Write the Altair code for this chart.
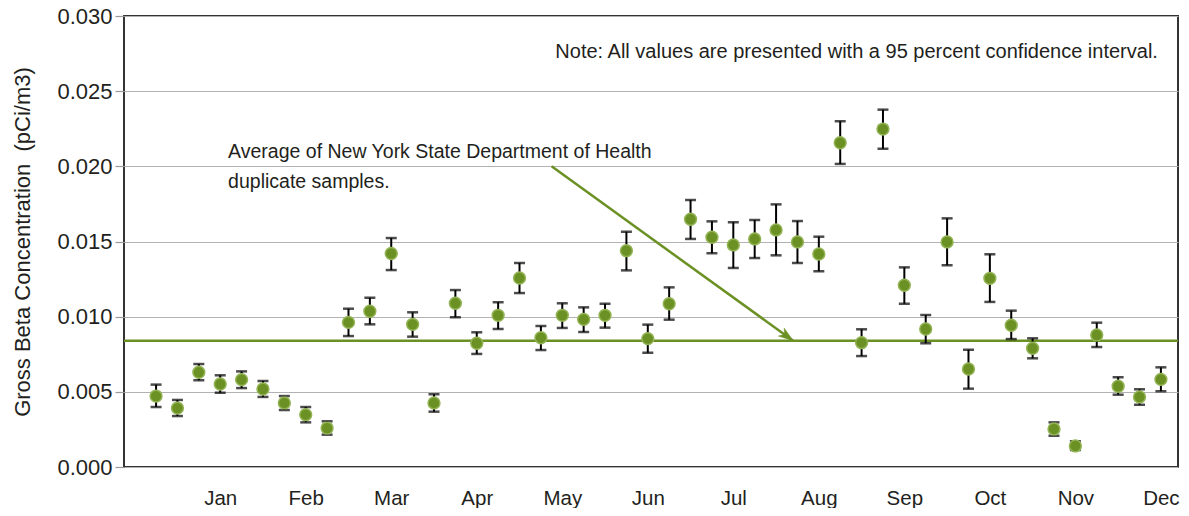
import altair as alt
import pandas as pd

# ---- data ----
sample_index = list(range(48))
values = [0.00472, 0.00392, 0.00630, 0.00552, 0.00581, 0.00519, 0.00426, 0.00348, 0.00259, 0.00962,
          0.01036, 0.01420, 0.00949, 0.00426, 0.01089, 0.00823, 0.01009, 0.01257, 0.00860, 0.01009,
          0.00982, 0.01009, 0.01439, 0.00854, 0.01086, 0.01648, 0.01528, 0.01477, 0.01517, 0.01577,
          0.01497, 0.01417, 0.02157, 0.00827, 0.02248, 0.01209, 0.00918, 0.01497, 0.00652, 0.01255,
          0.00943, 0.00790, 0.00253, 0.00140, 0.00878, 0.00537, 0.00466, 0.00583]
upper = [0.00548, 0.00446, 0.00685, 0.00610, 0.00636, 0.00572, 0.00472, 0.00399, 0.00304, 0.01053,
         0.01126, 0.01523, 0.01029, 0.00484, 0.01177, 0.00896, 0.01096, 0.01357, 0.00938, 0.01089,
         0.01062, 0.01086, 0.01565, 0.00947, 0.01195, 0.01776, 0.01634, 0.01628, 0.01643, 0.01747,
         0.01636, 0.01532, 0.02300, 0.00916, 0.02377, 0.01328, 0.01011, 0.01654, 0.00780, 0.01415,
         0.01040, 0.00856, 0.00297, 0.00171, 0.00960, 0.00597, 0.00517, 0.00663]
lower = [0.00399, 0.00339, 0.00577, 0.00494, 0.00525, 0.00466, 0.00379, 0.00297, 0.00215, 0.00871,
         0.00949, 0.01310, 0.00867, 0.00368, 0.00996, 0.00752, 0.00918, 0.01157, 0.00778, 0.00925,
         0.00898, 0.00927, 0.01308, 0.00760, 0.00980, 0.01517, 0.01422, 0.01324, 0.01390, 0.01408,
         0.01357, 0.01302, 0.02016, 0.00738, 0.02117, 0.01086, 0.00823, 0.01342, 0.00521, 0.01098,
         0.00851, 0.00723, 0.00208, 0.00113, 0.00798, 0.00481, 0.00414, 0.00504]
month_positions = [3, 7, 11, 15, 19, 23, 27, 31, 35, 39, 43, 47]
month_names = ["Jan", "Feb", "Mar", "Apr", "May", "Jun", "Jul", "Aug", "Sep", "Oct", "Nov", "Dec"]
y_ticks = [0.0, 0.005, 0.010, 0.015, 0.020, 0.025, 0.030]
average_value = 0.0084

note_text = ["Note: All values are presented with a 95 percent confidence interval."]
note_x = [46.86]
note_y = [0.0276]
ann_text = ["Average of New York State Department of Health", "duplicate samples."]
ann_x = [3.37, 3.37]
ann_y = [0.02095, 0.01895]
arrow_x = [18.5]
arrow_y = [0.0200]
arrow_x2 = [29.8]
arrow_y2 = [average_value]

FONT = "Liberation Sans, Arial, sans-serif"
TEXT = "#231f20"
GREEN = "#6b9023"

df = pd.DataFrame({"i": sample_index, "v": values, "hi": upper, "lo": lower})

xscale = alt.Scale(domain=[-1.5, 47.8], nice=False, zero=False)
yscale = alt.Scale(domain=[0, 0.03], nice=False, zero=False)

label_expr = "[" + ",".join("'%s'" % m for m in month_names) + "][indexof([" + \
    ",".join(str(p) for p in month_positions) + "], datum.value)]"

x_axis = alt.Axis(values=month_positions, labelExpr=label_expr, ticks=False, domain=False,
                  grid=False, title=None, labelFont=FONT, labelFontSize=20.5, labelColor=TEXT,
                  labelPadding=21)
y_axis = alt.Axis(values=y_ticks, format=".3f", grid=True, gridColor="#b2b2b2", gridWidth=1.2,
                  tickColor="#9a9a9a", tickSize=9, tickWidth=1.2, domain=False,
                  labelFont=FONT, labelFontSize=22, labelColor=TEXT, labelPadding=3,
                  title="Gross Beta Concentration \u00a0(pCi/m3)", titleFont=FONT,
                  titleFontSize=22, titleFontWeight="normal", titleColor=TEXT, titlePadding=22)

base = alt.Chart(df)

avg_line = alt.Chart(pd.DataFrame({"a": [average_value]})).mark_rule(
    color=GREEN, strokeWidth=2.5).encode(
    y=alt.Y("a:Q", scale=yscale, axis=y_axis))

axis_carrier = base.mark_point(opacity=0).encode(
    x=alt.X("i:Q", scale=xscale, axis=x_axis),
    y=alt.Y("v:Q", scale=yscale, axis=y_axis))

err = base.mark_rule(color="black", strokeWidth=2).encode(
    x=alt.X("i:Q", scale=xscale), y=alt.Y("lo:Q", scale=yscale), y2="hi:Q")
cap_hi = base.mark_tick(orient="horizontal", color="black", thickness=2.5, size=11).encode(
    x=alt.X("i:Q", scale=xscale), y=alt.Y("hi:Q", scale=yscale))
cap_lo = base.mark_tick(orient="horizontal", color="black", thickness=2.5, size=11).encode(
    x=alt.X("i:Q", scale=xscale), y=alt.Y("lo:Q", scale=yscale))
pts = base.mark_point(filled=True, shape="circle", size=140, fill=GREEN, stroke="#93b455",
                      strokeWidth=1.5, opacity=1).encode(
    x=alt.X("i:Q", scale=xscale), y=alt.Y("v:Q", scale=yscale))

arrow_df = pd.DataFrame({"x": arrow_x, "y": arrow_y, "x2": arrow_x2, "y2": arrow_y2})
arrow_line = alt.Chart(arrow_df).mark_rule(color=GREEN, strokeWidth=2.5).encode(
    x=alt.X("x:Q", scale=xscale), y=alt.Y("y:Q", scale=yscale), x2="x2:Q", y2="y2:Q")
arrow_head = alt.Chart(arrow_df).mark_point(
    shape="M0,0 L0.5,1.5 L0,1.1 L-0.5,1.5 Z", filled=True, fill=GREEN, stroke=GREEN,
    strokeWidth=0.5, opacity=1, size=380, angle=126).encode(
    x=alt.X("x2:Q", scale=xscale), y=alt.Y("y2:Q", scale=yscale))

ann = alt.Chart(pd.DataFrame({"x": ann_x, "y": ann_y, "t": ann_text})).mark_text(
    align="left", baseline="middle", font=FONT, fontSize=19.5, color=TEXT).encode(
    x=alt.X("x:Q", scale=xscale), y=alt.Y("y:Q", scale=yscale), text="t:N")
note = alt.Chart(pd.DataFrame({"x": note_x, "y": note_y, "t": note_text})).mark_text(
    align="right", baseline="middle", font=FONT, fontSize=20, color=TEXT).encode(
    x=alt.X("x:Q", scale=xscale), y=alt.Y("y:Q", scale=yscale), text="t:N")

chart = alt.layer(axis_carrier, avg_line, arrow_line, arrow_head, err, cap_hi, cap_lo, pts,
                  ann, note).properties(
    width=1054, height=451,
    padding={"left": 116, "top": 8, "right": 3, "bottom": 41},
    autosize=alt.AutoSizeParams(type="none"),
    background="white",
).configure_view(stroke="#333333", strokeWidth=2)

chart.save("out.html", embed_options={"renderer": "svg", "actions": False})
